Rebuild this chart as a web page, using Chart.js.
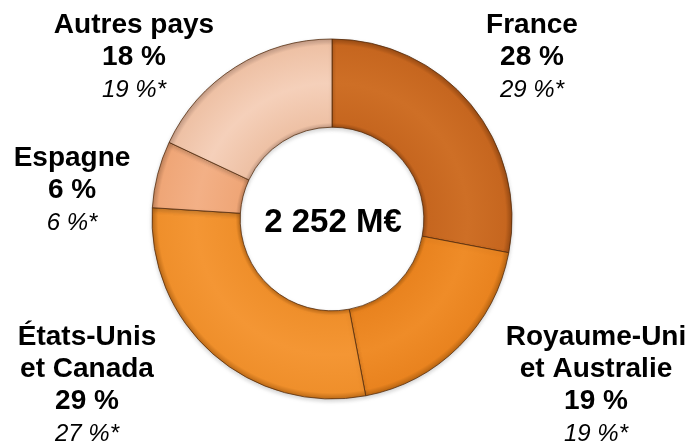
<!DOCTYPE html>
<html>
<head>
<meta charset="utf-8">
<script src="https://cdn.jsdelivr.net/npm/chart.js@4"></script>
<style>
html,body{margin:0;padding:0;background:#fff;}
#wrap{width:691px;height:443px;position:relative;}
</style>
</head>
<body>
<div id="wrap"><canvas id="c" width="691" height="443"></canvas></div>
<script>
// ---- data ----
const categories = [['France'], ['Royaume-Uni', 'et Australie'], ['États-Unis', 'et Canada'], ['Espagne'], ['Autres pays']];
const shares = [28, 19, 29, 6, 18];
const priorShares = [29, 19, 27, 6, 19];
const totalLabel = '2 252 M€';

// ---- styles ----
const OUTER_R = 180, CUT = 0.51;
const baseColors = ['#C6661F', '#E9831F', '#EF8F2B', '#EFA677', '#EEC1A5'];
const darkColors = ['#9A4C14', '#B86512', '#BD6B18', '#C1835C', '#C49C86'];
const lightColors = ['#CE6F26', '#EF8C28', '#F49634', '#F3B086', '#F5D0BA'];
const labelPlaces = [
  {x: 532, y: 33}, {x: 596, y: 345}, {x: 87, y: 345}, {x: 72, y: 166}, {x: 134, y: 33}
];
const FONT = '"Liberation Sans", Arial, sans-serif';

function sliceFill(ctx) {
  const chart = ctx.chart;
  const i = ctx.dataIndex;
  const ca = chart.chartArea;
  if (!ca) return baseColors[i];
  const cx = (ca.left + ca.right) / 2, cy = (ca.top + ca.bottom) / 2;
  const inner = OUTER_R * CUT, outer = OUTER_R;
  const g = chart.ctx.createRadialGradient(cx, cy, inner, cx, cy, outer);
  g.addColorStop(0, darkColors[i]);
  g.addColorStop(0.05, baseColors[i]);
  g.addColorStop(0.5, lightColors[i]);
  g.addColorStop(0.93, baseColors[i]);
  g.addColorStop(1, darkColors[i]);
  return g;
}

const labelsPlugin = {
  id: 'labelsPlugin',
  beforeDatasetsDraw(chart) {
    const c = chart.ctx;
    c.save();
    c.shadowColor = 'rgba(0,0,0,0.18)';
    c.shadowBlur = 4;
    c.shadowOffsetY = 2;
  },
  afterDatasetsDraw(chart) {
    const c = chart.ctx;
    c.restore();
    c.save();
    c.fillStyle = '#000';
    c.textAlign = 'center';
    c.textBaseline = 'alphabetic';
    categories.forEach((lines, i) => {
      const p = labelPlaces[i];
      let y = p.y;
      c.font = 'bold 28px ' + FONT;
      lines.forEach(l => { c.fillText(l, p.x, y); y += 32; });
      c.fillText(shares[i] + ' %', p.x, y); y += 32;
      c.font = 'italic 24px ' + FONT;
      c.fillText(priorShares[i] + ' %*', p.x, y);
    });
    const arc = chart.getDatasetMeta(0).data[0];
    c.font = 'bold 33px ' + FONT;
    c.textBaseline = 'middle';
    c.fillText(totalLabel, arc.x + 1, arc.y + 4);
    c.restore();
  }
};

new Chart(document.getElementById('c'), {
  type: 'doughnut',
  data: {
    labels: categories.map(l => l.join(' ')),
    datasets: [{
      data: shares,
      backgroundColor: sliceFill,
      borderColor: 'rgba(80,40,10,0.75)',
      borderWidth: 1,
      hoverOffset: 0
    }]
  },
  options: {
    responsive: false,
    animation: false,
    radius: OUTER_R,
    cutout: (CUT * 100) + '%',
    layout: {padding: {left: 0, right: 27, top: 0, bottom: 5}},
    plugins: {legend: {display: false}, tooltip: {enabled: false}, title: {display: false}}
  },
  plugins: [labelsPlugin]
});
</script>
</body>
</html>
